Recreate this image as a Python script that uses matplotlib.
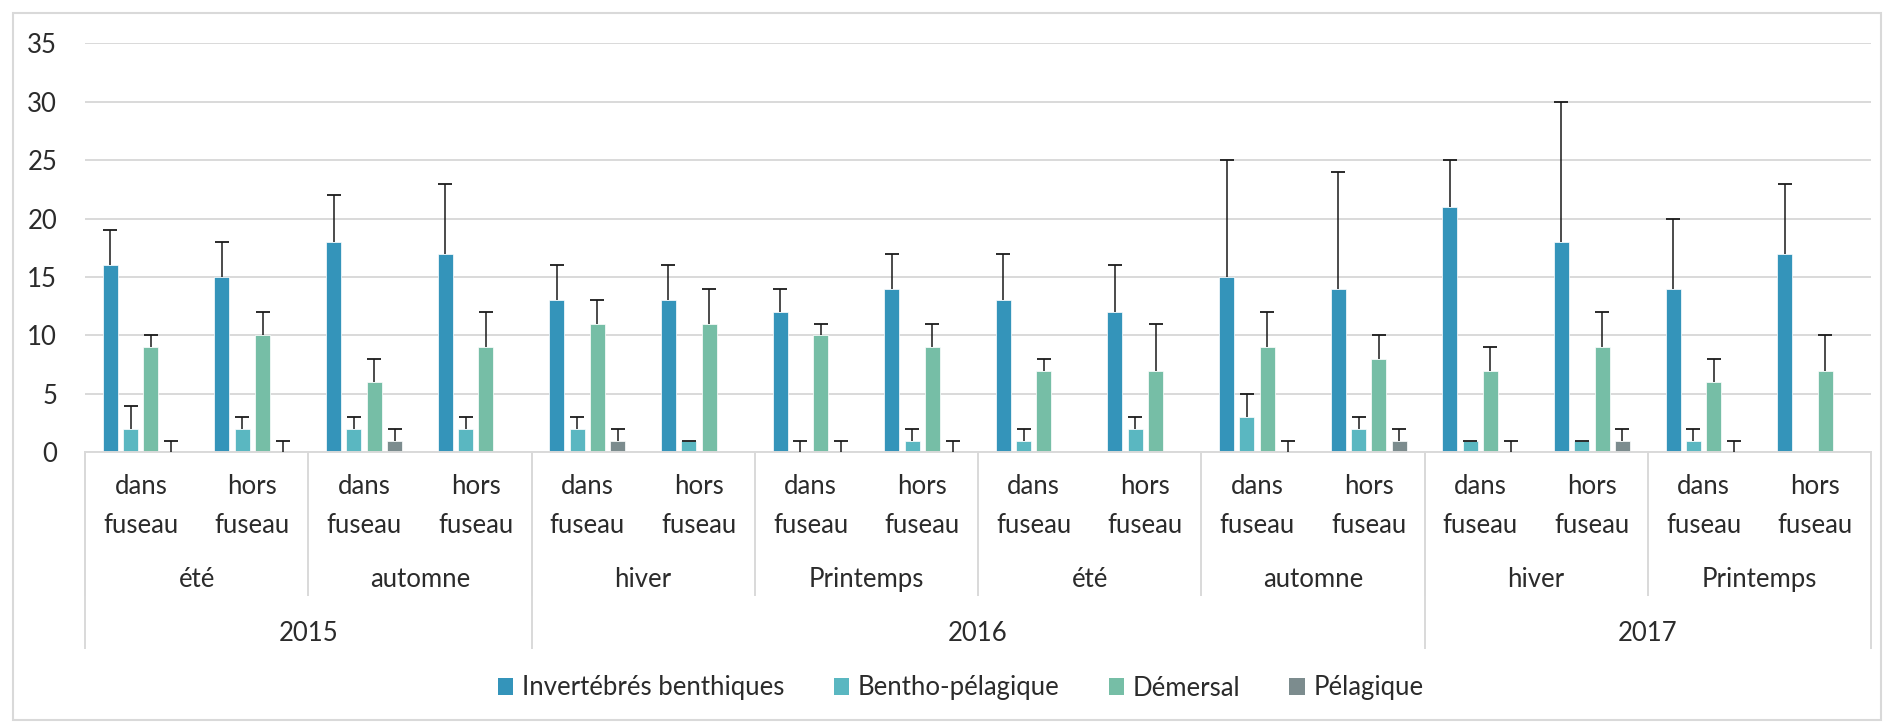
import numpy as np
import matplotlib.pyplot as plt
from matplotlib.patches import Rectangle, Patch
from matplotlib.transforms import blended_transform_factory

nan = np.nan

# categories (3 levels: year > season > zone)
years = ["2015", "2016", "2017"]
seasons_per_year = [2, 4, 2]
seasons = ["été", "automne", "hiver", "Printemps", "été", "automne", "hiver", "Printemps"]
zones = ["dans\nfuseau", "hors\nfuseau"]

series_names = ["Invertébrés benthiques", "Bentho-pélagique", "Démersal", "Pélagique"]

# values, one entry per (season, zone)
invertebres = [16, 15, 18, 17, 13, 13, 12, 14, 13, 12, 15, 14, 21, 18, 14, 17]
invertebres_err = [3, 3, 4, 6, 3, 3, 2, 3, 4, 4, 10, 10, 4, 12, 6, 6]
bentho = [2, 2, 2, 2, 2, 1, 0, 1, 1, 2, 3, 2, 1, 1, 1, nan]
bentho_err = [2, 1, 1, 1, 1, 0, 1, 1, 1, 1, 2, 1, 0, 0, 1, nan]
demersal = [9, 10, 6, 9, 11, 11, 10, 9, 7, 7, 9, 8, 7, 9, 6, 7]
demersal_err = [1, 2, 2, 3, 2, 3, 1, 2, 1, 4, 3, 2, 2, 3, 2, 3]
pelagique = [0, 0, 1, nan, 1, nan, 0, 0, nan, nan, 0, 1, 0, 1, 0, nan]
pelagique_err = [1, 1, 1, nan, 1, nan, 1, 1, nan, nan, 1, 1, 1, 1, 1, nan]

colors = ["#3494BA", "#5AB7C1", "#76BEA6", "#7C8C8E"]
text_color = "#2b2b2b"
line_color = "#D9D9D9"

plt.rcParams["font.family"] = ["Lato", "DejaVu Sans"]
fs = 18.5

W, H = 1884, 723
fig = plt.figure(figsize=(W / 100, H / 100), dpi=100)
ax = fig.add_axes([85 / W, (H - 452.3) / H, (1871 - 85) / W, (452.3 - 43.3) / H])

values = [invertebres, bentho, demersal, pelagique]
errors = [invertebres_err, bentho_err, demersal_err, pelagique_err]

n = len(seasons) * len(zones)
x = np.arange(n)
pitch = 0.182
width = 0.134

for i, (vals, errs) in enumerate(zip(values, errors)):
    vals = np.array(vals, dtype=float)
    errs = np.array(errs, dtype=float)
    xs = x + (i - 1.5) * pitch
    ax.bar(xs, vals, width, color=colors[i], edgecolor="white", linewidth=0.5,
           label=series_names[i], zorder=2)
    top = vals + errs
    ax.vlines(xs, vals, top, color="#1a1a1a", linewidth=1.1, zorder=3)
    ax.plot(xs, top, linestyle="none", marker="_", markersize=10,
            markeredgewidth=1.3, color="#1a1a1a", zorder=3)

ax.set_xlim(-0.5, n - 0.5)
ax.set_ylim(0, 35)
ax.set_yticks(range(0, 36, 5))
ax.yaxis.grid(True, color=line_color, linewidth=1.4)
ax.set_axisbelow(True)
ax.tick_params(axis="y", length=0, pad=20, labelsize=fs, labelcolor=text_color)
ax.set_xticks([])
for s in ["top", "right", "left"]:
    ax.spines[s].set_visible(False)
ax.spines["bottom"].set_color(line_color)
ax.spines["bottom"].set_linewidth(1.4)

# multi-level category table under the axis
trans = blended_transform_factory(ax.transData, ax.transAxes)
row_zone, row_season, row_year = -0.1325, -0.31, -0.442
season_bottom, year_bottom = -0.349, -0.478

for k in range(n):
    ax.text(k, row_zone, zones[k % 2], transform=trans, ha="center", va="center",
            fontsize=fs, color=text_color, linespacing=1.7)

for s, name in enumerate(seasons):
    ax.text(2 * s + 0.5, row_season, name, transform=trans, ha="center", va="center",
            fontsize=fs, color=text_color)
    ax.plot([2 * s - 0.5] * 2, [0, season_bottom], transform=trans, color=line_color,
            linewidth=1.4, clip_on=False)

start = 0
for y, cnt in zip(years, seasons_per_year):
    left = 2 * start - 0.5
    right = 2 * (start + cnt) - 0.5
    ax.text((left + right) / 2, row_year, y, transform=trans, ha="center", va="center",
            fontsize=fs, color=text_color)
    ax.plot([left, left], [0, year_bottom], transform=trans, color=line_color,
            linewidth=1.4, clip_on=False)
    start += cnt
ax.plot([n - 0.5, n - 0.5], [0, year_bottom], transform=trans, color=line_color,
        linewidth=1.4, clip_on=False)

handles = [Patch(facecolor=c, edgecolor="none") for c in colors]
fig.legend(handles, series_names, loc="center", bbox_to_anchor=(961 / W, 1 - 688 / H),
           ncol=4, frameon=False, fontsize=fs, handlelength=0.6, handleheight=0.6,
           handletextpad=0.35, columnspacing=1.9, labelcolor=text_color)

fig.patches.append(Rectangle((12.7 / W, 1 - 720 / H), (1881 - 12.7) / W, (720 - 13.3) / H,
                             transform=fig.transFigure, fill=False,
                             edgecolor=line_color, linewidth=1.5))

fig.savefig("out.png", dpi=100)
